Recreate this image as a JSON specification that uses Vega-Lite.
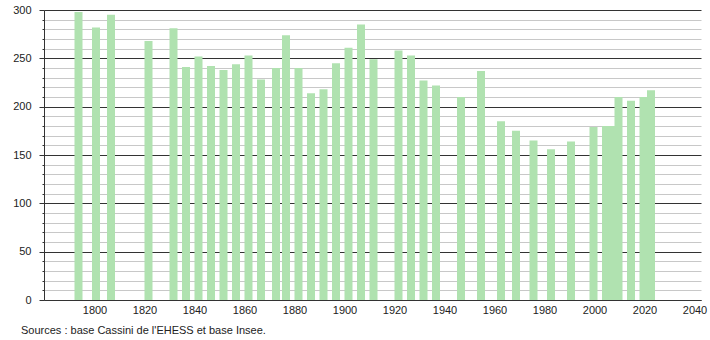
{
  "$schema": "https://vega.github.io/schema/vega-lite/v6.json",
  "width": 657,
  "height": 290,
  "autosize": {"type": "none"},
  "padding": {"left": 44, "top": 10, "right": 9, "bottom": 40},
  "background": "white",
  "config": {
    "view": {"stroke": null},
    "font": "Liberation Sans"
  },
  "title": {
    "text": "Sources : base Cassini de l'EHESS et base Insee.",
    "orient": "bottom",
    "anchor": "start",
    "frame": "group",
    "offset": 10,
    "dx": -23,
    "fontSize": 11,
    "fontWeight": "normal",
    "font": "Liberation Sans",
    "color": "#222"
  },
  "data": {
    "values": [
      {"year": 1793, "pop": 298},
      {"year": 1800, "pop": 282},
      {"year": 1806, "pop": 295},
      {"year": 1821, "pop": 268},
      {"year": 1831, "pop": 281},
      {"year": 1836, "pop": 241},
      {"year": 1841, "pop": 252},
      {"year": 1846, "pop": 242},
      {"year": 1851, "pop": 238},
      {"year": 1856, "pop": 244},
      {"year": 1861, "pop": 253},
      {"year": 1866, "pop": 228},
      {"year": 1872, "pop": 240},
      {"year": 1876, "pop": 274},
      {"year": 1881, "pop": 240},
      {"year": 1886, "pop": 214},
      {"year": 1891, "pop": 218},
      {"year": 1896, "pop": 245},
      {"year": 1901, "pop": 261},
      {"year": 1906, "pop": 285},
      {"year": 1911, "pop": 249},
      {"year": 1921, "pop": 258},
      {"year": 1926, "pop": 253},
      {"year": 1931, "pop": 227},
      {"year": 1936, "pop": 222},
      {"year": 1946, "pop": 210},
      {"year": 1954, "pop": 237},
      {"year": 1962, "pop": 185},
      {"year": 1968, "pop": 175},
      {"year": 1975, "pop": 165},
      {"year": 1982, "pop": 156},
      {"year": 1990, "pop": 164},
      {"year": 1999, "pop": 179},
      {"year": 2004, "pop": 180},
      {"year": 2006, "pop": 180},
      {"year": 2009, "pop": 210},
      {"year": 2014, "pop": 206},
      {"year": 2019, "pop": 210},
      {"year": 2022, "pop": 217}
    ]
  },
  "mark": {"type": "bar", "width": 8, "xOffset": 1.5, "color": "#b0e2b0"},
  "encoding": {
    "x": {
      "field": "year",
      "type": "quantitative",
      "scale": {"domain": [1779.8, 2042.6], "nice": false, "zero": false, "padding": 0},
      "axis": {
        "title": null,
        "values": [1800, 1820, 1840, 1860, 1880, 1900, 1920, 1940, 1960, 1980, 2000, 2020, 2040],
        "format": "d",
        "ticks": false,
        "grid": false,
        "labelPadding": 4,
        "labelFontSize": 11,
        "labelColor": "#222",
        "labelFont": "Liberation Sans",
        "domainColor": "#333",
        "labelFlush": false,
        "labelOverlap": false
      }
    },
    "y": {
      "field": "pop",
      "type": "quantitative",
      "scale": {"domain": [0, 300], "nice": false, "padding": 0},
      "axis": {
        "title": null,
        "values": [0, 10, 20, 30, 40, 50, 60, 70, 80, 90, 100, 110, 120, 130, 140, 150, 160, 170, 180, 190, 200, 210, 220, 230, 240, 250, 260, 270, 280, 290, 300],
        "labelExpr": "datum.value % 50 === 0 ? datum.label : ''",
        "grid": true,
        "gridColor": {"condition": {"test": "datum.value % 50 === 0", "value": "#333"}, "value": "#c8c8c8"},
        "gridWidth": 1,
        "tickColor": "#333",
        "tickSize": {"condition": {"test": "datum.value % 50 === 0", "value": 5}, "value": 2},
        "labelPadding": 8,
        "labelFontSize": 11,
        "labelColor": "#222",
        "labelFont": "Liberation Sans",
        "domainColor": "#333",
        "labelOverlap": false,
        "labelFlush": false
      }
    }
  }
}
